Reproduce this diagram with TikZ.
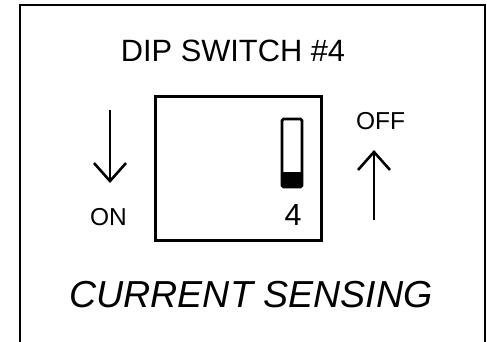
\documentclass[tikz,border=0pt]{standalone}
\usepackage{fontspec}
\setmainfont{Liberation Sans}
\usetikzlibrary{arrows.meta}
\begin{document}
\begin{tikzpicture}[x=1pt,y=-1pt,
  lbl/.style={inner sep=0pt,anchor=base},
  dirarrow/.style={line width=2.6pt,-{Straight Barb[length=18pt,width=32pt,line width=2.6pt]}}]
\useasboundingbox (0,0) rectangle (487,341);
\draw[line width=2pt] (20,345) -- (20,5) -- (485.3,5) -- (485.3,345);
\node[lbl,font=\fontsize{30.8}{30.8}\selectfont] (title) at (233,61) {DIP SWITCH \#4};
\node[draw,line width=3pt,minimum width=166pt,minimum height=144pt,inner sep=0pt] (box) at (238.5,168.5) {};
\node[draw,line width=2.6pt,rounded corners=1.5pt,minimum width=20pt,minimum height=68pt,inner sep=0pt] (slider) at (292,153) {};
\fill[rounded corners=1.5pt] (282.2,172) rectangle (301.8,187);
\node[lbl,font=\fontsize{30.5}{30.5}\selectfont] (num) at (293,225) {4};
\node[lbl,font=\fontsize{24.5}{24.5}\selectfont] (on) at (108.5,225) {ON};
\node[lbl,font=\fontsize{24.5}{24.5}\selectfont] (off) at (380.5,129) {OFF};
\coordinate (ontop) at (110,110);
\coordinate (ontip) at (110,183);
\coordinate (offbot) at (374,220);
\coordinate (offtip) at (374,150);
\draw[dirarrow] (ontop) -- (ontip);
\draw[dirarrow] (offbot) -- (offtip);
\node[lbl,font=\fontsize{37.6}{37.6}\selectfont\itshape] (cs) at (251,307) {CURRENT SENSING};
\end{tikzpicture}
\end{document}
